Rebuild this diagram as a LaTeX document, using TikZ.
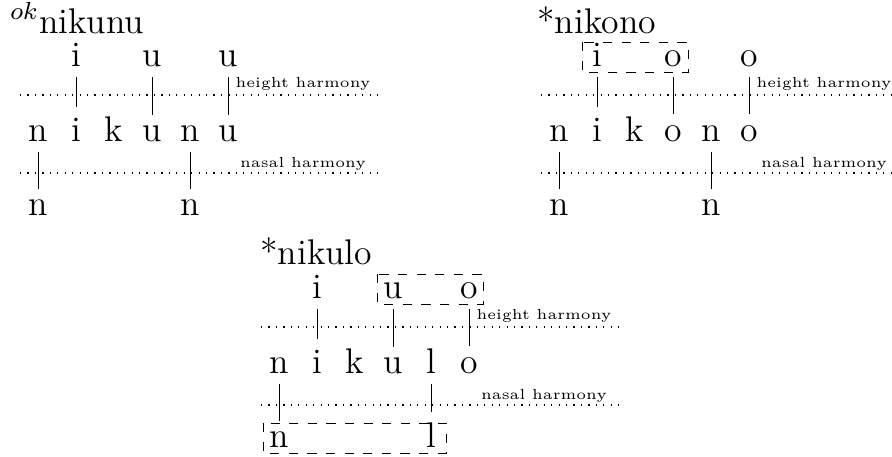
\documentclass[tikz,border=0pt]{standalone}
\usetikzlibrary{calc}
\begin{document}
\begin{tikzpicture}[x=0.3226pt,y=-0.3226pt,
  font=\fontsize{11.5}{14}\selectfont,
  line width=0.32pt,
  seg/.style={anchor=base, inner sep=3.3pt},
  wordtitle/.style={anchor=base west, inner sep=0pt},
  tierlabel/.style={anchor=base, font=\fontsize{4.65}{5}\selectfont},
  tier/.style={dotted, line width=0.4pt},
  assoc/.style={},
  cluster/.style={dashed}]
\useasboundingbox (0,0) rectangle (892,456);

% ---------- nikunu ----------
\node[wordtitle] (Atitle) at (10,33) {$^{ok}$nikunu};
\node[seg] (Am1) at (38,141) {n};
\node[seg] (Am2) at (76,141) {i};
\node[seg] (Am3) at (114,141) {k};
\node[seg] (Am4) at (152,141) {u};
\node[seg] (Am5) at (190,141) {n};
\node[seg] (Am6) at (228,141) {u};
\node[seg] (At2) at (76,66) {i};
\node[seg] (At4) at (152,66) {u};
\node[seg] (At6) at (228,66) {u};
\node[seg] (Ab1) at (38,215) {n};
\node[seg] (Ab5) at (190,215) {n};
\draw[tier] (20,95) -- (380,95);
\draw[tier] (20,173) -- (380,173);
\node[tierlabel] (Ah) at (303,87) {height harmony};
\node[tierlabel] (An) at (303,167) {nasal harmony};
\draw[assoc] (At2.south) -- (Am2.north);
\draw[assoc] (At4.south) -- (Am4.north);
\draw[assoc] (At6.south) -- (Am6.north);
\draw[assoc] (Am1.south) -- (Ab1.north);
\draw[assoc] (Am5.south) -- (Ab5.north);

% ---------- nikono ----------
\node[wordtitle] (Btitle) at (537,33) {*nikono};
\node[seg] (Bm1) at (559,141) {n};
\node[seg] (Bm2) at (597,141) {i};
\node[seg] (Bm3) at (635,141) {k};
\node[seg] (Bm4) at (673,141) {o};
\node[seg] (Bm5) at (711,141) {n};
\node[seg] (Bm6) at (749,141) {o};
\node[seg] (Bt2) at (597,66) {i};
\node[seg] (Bt4) at (673,66) {o};
\node[seg] (Bt6) at (749,66) {o};
\node[seg] (Bb1) at (559,215) {n};
\node[seg] (Bb5) at (711,215) {n};
\draw[tier] (541,95) -- (899,95);
\draw[tier] (541,173) -- (899,173);
\node[tierlabel] (Bh) at (824,87) {height harmony};
\node[tierlabel] (Bn) at (824,167) {nasal harmony};
\draw[assoc] (Bt2.south) -- (Bm2.north);
\draw[assoc] (Bt4.south) -- (Bm4.north);
\draw[assoc] (Bt6.south) -- (Bm6.north);
\draw[assoc] (Bm1.south) -- (Bb1.north);
\draw[assoc] (Bm5.south) -- (Bb5.north);
\draw[cluster] ($(Bt2.base)+(-15,-24)$) rectangle ($(Bt4.base)+(15,6)$);

% ---------- nikulo ----------
\node[wordtitle] (Ctitle) at (260,264) {*nikulo};
\node[seg] (Cm1) at (279,373) {n};
\node[seg] (Cm2) at (317,373) {i};
\node[seg] (Cm3) at (355,373) {k};
\node[seg] (Cm4) at (393,373) {u};
\node[seg] (Cm5) at (431,373) {l};
\node[seg] (Cm6) at (469,373) {o};
\node[seg] (Ct2) at (317,298) {i};
\node[seg] (Ct4) at (393,298) {u};
\node[seg] (Ct6) at (469,298) {o};
\node[seg] (Cb1) at (279,447) {n};
\node[seg] (Cb5) at (431,447) {l};
\draw[tier] (261,327) -- (621,327);
\draw[tier] (261,405) -- (621,405);
\node[tierlabel] (Ch) at (544,319) {height harmony};
\node[tierlabel] (Cn) at (544,399) {nasal harmony};
\draw[assoc] (Ct2.south) -- (Cm2.north);
\draw[assoc] (Ct4.south) -- (Cm4.north);
\draw[assoc] (Ct6.south) -- (Cm6.north);
\draw[assoc] (Cm1.south) -- (Cb1.north);
\draw[assoc] (Cm5.south) -- (Cb5.north);
\draw[cluster] ($(Ct4.base)+(-16,-24)$) rectangle ($(Ct6.base)+(14,6)$);
\draw[cluster] ($(Cb1.base)+(-16,-24)$) rectangle ($(Cb5.base)+(15,6)$);
\end{tikzpicture}
\end{document}
